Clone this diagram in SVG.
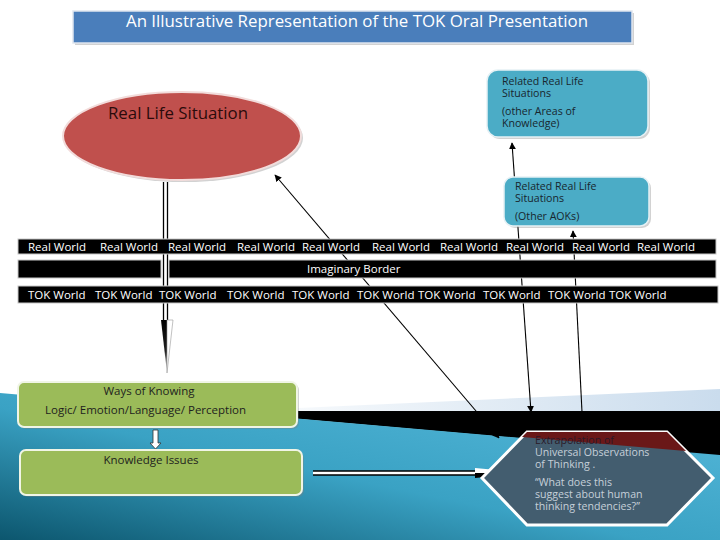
<svg xmlns="http://www.w3.org/2000/svg" width="720" height="540" viewBox="0 0 720 540">
<defs>
<linearGradient id="teal" x1="0" y1="1" x2="1" y2="0">
<stop offset="0" stop-color="#0c566e"/>
<stop offset="0.45" stop-color="#3aa2c4"/>
<stop offset="1" stop-color="#58badc"/>
</linearGradient>
<linearGradient id="strip" x1="0" y1="0" x2="1" y2="0">
<stop offset="0" stop-color="#ffffff"/>
<stop offset="1" stop-color="#cadced"/>
</linearGradient>
<linearGradient id="vhead" x1="0" y1="0" x2="0" y2="1">
<stop offset="0" stop-color="#000"/>
<stop offset="0.6" stop-color="#222"/>
<stop offset="1" stop-color="#fff"/>
</linearGradient>
<linearGradient id="hhead" x1="0" y1="0" x2="1" y2="0">
<stop offset="0" stop-color="#000"/>
<stop offset="0.7" stop-color="#111"/>
<stop offset="1" stop-color="#fff"/>
</linearGradient>
<marker id="ah" viewBox="0 0 10 10" refX="9" refY="5" markerWidth="7" markerHeight="7" markerUnits="userSpaceOnUse" orient="auto-start-reverse">
<path d="M0,0 L10,5 L0,10 z" fill="#000"/>
</marker>
</defs>
<style>
text{font-family:"Open Sans","Noto Sans","Liberation Sans",sans-serif;}
.band{fill:#000;stroke:#c8c8c8;stroke-width:1;}
.bt{fill:#fff;font-size:11.5px;}
.conn{stroke:#000;stroke-width:1.1;fill:none;}
.nt{fill:#1e1e1e;font-size:11.5px;}
.rt{fill:#18262e;font-size:10.6px;}
.ht{font-size:10.6px;fill:#c6d0d9;}
.shadow{fill:#7f7f7f;opacity:0.35;}
</style>
<rect x="0" y="0" width="720" height="540" fill="#fff"/>
<g id="background">
<polygon points="209,412 720,389 720,412" fill="url(#strip)"/>
<polygon points="209,411 720,411 720,456" fill="#000"/>
<polygon points="0,393 720,455 720,540 0,540" fill="url(#teal)"/>
</g>
<g id="title">
<rect x="75" y="13" width="559" height="32" class="shadow"/>
<rect x="73" y="11" width="559" height="32" fill="#4a7ebb" stroke="#dfe6ef" stroke-width="1.5"/>
<text x="126" y="27" fill="#fff" font-size="16" textLength="462" lengthAdjust="spacingAndGlyphs">An Illustrative Representation of the TOK Oral Presentation</text>
</g>
<g id="connectors">
<line class="conn" x1="275" y1="175" x2="499" y2="438" marker-start="url(#ah)" marker-end="url(#ah)"/>
<line class="conn" x1="512" y1="143" x2="531" y2="412" marker-start="url(#ah)" marker-end="url(#ah)"/>
<line class="conn" x1="573" y1="231" x2="582" y2="412" marker-start="url(#ah)"/>
<g id="down-arrow">
<rect x="163.5" y="182" width="4" height="140" fill="#fff"/>
<line x1="163.5" y1="182" x2="163.5" y2="322" stroke="#000" stroke-width="1.3"/>
<line x1="167.5" y1="182" x2="167.5" y2="322" stroke="#000" stroke-width="1.3"/>
<polygon points="161,320 167,320 167,373" fill="url(#vhead)"/>
<polygon points="167,320 173,320 167,373" fill="#fff" stroke="#999" stroke-width="0.6"/>
</g>
<g id="right-arrow">
<rect x="313" y="471" width="164" height="4" fill="#fff"/>
<line x1="313" y1="471" x2="477" y2="471" stroke="#000" stroke-width="1.3"/>
<line x1="313" y1="475" x2="477" y2="475" stroke="#000" stroke-width="1.3"/>
<polygon points="475,468 475,473 527,473" fill="#fff"/>
<polygon points="475,473 475,478 527,473" fill="url(#hhead)"/>
</g>
<polygon id="small-arrow" points="153,430 158,430 158,443 161,443 155.5,449 150,443 153,443" fill="#fff" stroke="#333" stroke-width="0.8"/>
</g>
<g id="real-world-band">
<rect class="band" x="18" y="239" width="698" height="15"/>
<text class="bt" y="250.5"><tspan x="28">Real World</tspan><tspan x="100">Real World</tspan><tspan x="168">Real World</tspan><tspan x="237">Real World</tspan><tspan x="302">Real World</tspan><tspan x="372">Real World</tspan><tspan x="440">Real World</tspan><tspan x="506">Real World</tspan><tspan x="572">Real World</tspan><tspan x="637">Real World</tspan></text>
</g>
<g id="imaginary-border">
<rect class="band" x="18" y="260" width="143" height="18"/>
<rect class="band" x="169" y="260" width="547" height="18"/>
<text class="bt" x="307" y="273">Imaginary Border</text>
</g>
<g id="tok-world-band">
<rect class="band" x="18" y="286" width="700" height="17"/>
<text class="bt" y="298.5"><tspan x="28">TOK World</tspan><tspan x="95">TOK World</tspan><tspan x="159">TOK World</tspan><tspan x="227">TOK World</tspan><tspan x="292">TOK World</tspan><tspan x="357">TOK World</tspan><tspan x="418">TOK World</tspan><tspan x="483">TOK World</tspan><tspan x="548">TOK World</tspan><tspan x="609">TOK World</tspan></text>
</g>
<g id="real-life-situation">
<ellipse cx="184" cy="138" rx="119" ry="44" class="shadow"/>
<ellipse cx="182" cy="136" rx="119" ry="44" fill="#c0504d" stroke="#f2dcdb" stroke-width="2"/>
<text x="108" y="119" fill="#2b0b0b" font-size="15.5" textLength="140" lengthAdjust="spacingAndGlyphs">Real Life Situation</text>
</g>
<g id="related-aok">
<rect x="489" y="72" width="161" height="67" rx="11" class="shadow"/>
<rect x="487" y="70" width="161" height="67" rx="11" fill="#4bacc6" stroke="#e6f1f5" stroke-width="1.5"/>
<text class="rt"><tspan x="502" y="85">Related Real Life</tspan><tspan x="502" y="97">Situations</tspan><tspan x="502" y="115">(other Areas of</tspan><tspan x="502" y="127">Knowledge)</tspan></text>
</g>
<g id="related-aoks">
<rect x="506" y="179" width="145" height="49" rx="9" class="shadow"/>
<rect x="504" y="177" width="145" height="49" rx="9" fill="#4bacc6" stroke="#e6f1f5" stroke-width="1.5"/>
<text class="rt"><tspan x="515" y="190">Related Real Life</tspan><tspan x="515" y="202">Situations</tspan><tspan x="515" y="220">(Other AOKs)</tspan></text>
</g>
<g id="ways-of-knowing">
<rect x="20" y="384" width="279" height="45" rx="6" class="shadow"/>
<rect x="18" y="382" width="279" height="45" rx="6" fill="#9bbb59" stroke="#f0f5e6" stroke-width="2"/>
<text class="nt" x="149" y="395" text-anchor="middle">Ways of Knowing</text>
<text class="nt" x="45" y="414">Logic/ Emotion/Language/ Perception</text>
</g>
<g id="knowledge-issues">
<rect x="22" y="452" width="282" height="45" rx="6" class="shadow"/>
<rect x="20" y="450" width="282" height="45" rx="6" fill="#9bbb59" stroke="#f0f5e6" stroke-width="2"/>
<text class="nt" x="151" y="464" text-anchor="middle">Knowledge Issues</text>
</g>
<g id="extrapolation">
<polygon points="482,478 527,432 667,432 713,478 667,525 527,525" fill="#435d6f" stroke="#fff" stroke-width="3"/>
<polygon points="522,437 527,432 667,432 686,451" fill="#6a1818"/>
<text class="ht"><tspan x="535" y="444" fill="#2a1a28">Extrapolation of</tspan><tspan x="535" y="456">Universal Observations</tspan><tspan x="535" y="468">of Thinking .</tspan><tspan x="535" y="486">“What does this</tspan><tspan x="535" y="498">suggest about human</tspan><tspan x="535" y="510">thinking tendencies?”</tspan></text>
</g>
</svg>
